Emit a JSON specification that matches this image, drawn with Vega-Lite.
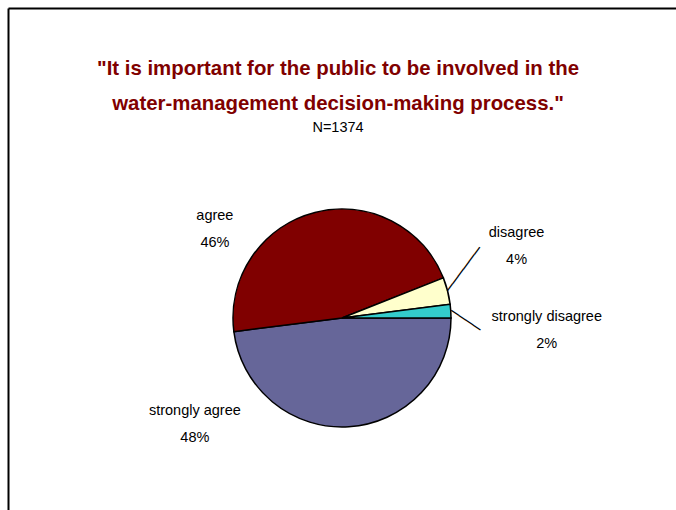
{
  "$schema": "https://vega.github.io/schema/vega-lite/v6.json",
  "width": 668,
  "height": 502,
  "autosize": {"type": "none"},
  "padding": {"left": 8, "top": 8, "right": 0, "bottom": 0},
  "background": "white",
  "config": {
    "font": "Liberation Sans",
    "view": {"stroke": null},
    "axis": {"domainColor": "black", "domainWidth": 2, "ticks": false, "labels": false, "grid": false, "title": null}
  },
  "title": {
    "text": ["\"It is important for the public to be involved in the", "water-management decision-making process.\""],
    "subtitle": "N=1374",
    "font": "Liberation Sans",
    "fontSize": 20.4,
    "fontWeight": "bold",
    "color": "#800000",
    "lineHeight": 35,
    "subtitleFont": "Liberation Sans",
    "subtitleFontSize": 14.5,
    "subtitleColor": "black",
    "subtitlePadding": 6,
    "anchor": "middle",
    "frame": "group",
    "dx": -4,
    "offset": -126
  },
  "data": {
    "values": [
      {"category": "strongly agree", "pct": 48, "idx": 1, "label": "strongly agree\n48%"},
      {"category": "agree", "pct": 46, "idx": 2, "label": "agree\n46%"},
      {"category": "disagree", "pct": 4, "idx": 3, "label": "disagree\n4%"},
      {"category": "strongly disagree", "pct": 2, "idx": 4, "label": "strongly disagree\n2%"}
    ]
  },
  "encoding": {
    "theta": {"field": "pct", "type": "quantitative", "stack": true, "scale": {"range": [1.5708, 7.854]}},
    "x": {"datum": 0, "type": "quantitative", "scale": {"domain": [-1, 1], "nice": false, "zero": false}, "axis": {"orient": "top"}},
    "y": {"datum": 0, "type": "quantitative", "scale": {"domain": [-0.6194, 1], "nice": false, "zero": false}, "axis": {"orient": "left"}},
    "order": {"field": "idx", "type": "quantitative"}
  },
  "layer": [
    {
      "mark": {"type": "arc", "outerRadius": 109, "stroke": "black", "strokeWidth": 1.5},
      "encoding": {
        "color": {
          "field": "category", "type": "nominal", "legend": null,
          "scale": {"domain": ["strongly agree", "agree", "disagree", "strongly disagree"], "range": ["#666699", "#800000", "#FFFFCC", "#33CCCC"]}
        }
      }
    },
    {
      "mark": {"type": "text", "radius": 109, "angle": -53.6, "align": "left", "baseline": "middle", "font": "DejaVu Sans Mono", "fontSize": 15, "color": "black"},
      "encoding": {"text": {"condition": {"test": "datum.category === 'disagree'", "value": "──────"}, "value": ""}}
    },
    {
      "mark": {"type": "text", "radius": 109, "angle": 34.1, "align": "left", "baseline": "middle", "font": "DejaVu Sans Mono", "fontSize": 14.6, "color": "black"},
      "encoding": {"text": {"condition": {"test": "datum.category === 'strongly disagree'", "value": "────"}, "value": ""}}
    },
    {
      "mark": {"type": "text", "radius": 109, "dx": -154, "dy": -16, "fontSize": 14.5, "lineBreak": "\n", "lineHeight": 27, "baseline": "middle", "align": "center", "color": "black"},
      "encoding": {"text": {"condition": {"test": "datum.category === 'strongly agree'", "field": "label"}, "value": ""}}
    },
    {
      "mark": {"type": "text", "radius": 109, "dx": -100, "dy": 4, "fontSize": 14.5, "lineBreak": "\n", "lineHeight": 27, "baseline": "middle", "align": "center", "color": "black"},
      "encoding": {"text": {"condition": {"test": "datum.category === 'agree'", "field": "label"}, "value": ""}}
    },
    {
      "mark": {"type": "text", "radius": 109, "dx": 69, "dy": -58, "fontSize": 14.5, "lineBreak": "\n", "lineHeight": 27, "baseline": "middle", "align": "center", "color": "black"},
      "encoding": {"text": {"condition": {"test": "datum.category === 'disagree'", "field": "label"}, "value": ""}}
    },
    {
      "mark": {"type": "text", "radius": 109, "dx": 96, "dy": 6, "fontSize": 14.5, "lineBreak": "\n", "lineHeight": 27, "baseline": "middle", "align": "center", "color": "black"},
      "encoding": {"text": {"condition": {"test": "datum.category === 'strongly disagree'", "field": "label"}, "value": ""}}
    }
  ]
}
